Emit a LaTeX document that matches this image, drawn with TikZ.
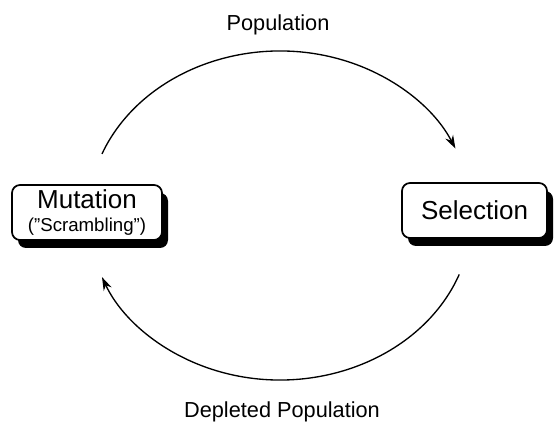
\documentclass[tikz,border=0pt]{standalone}
\usepackage{fontspec}
\setmainfont{Liberation Sans}
\usetikzlibrary{arrows.meta,shadows,calc}

\tikzset{every picture/.style={line width=0.75pt}}
\tikzset{
  stagebox/.style={draw, line width=1.3pt, rounded corners=6pt, fill=white, align=center, inner sep=0pt,
    font=\fontsize{19.5}{22}\selectfont,
    drop shadow={shadow xshift=4.5pt, shadow yshift=-6pt, fill=black, opacity=1}},
  cyclearc/.style={line width=1pt, -{Stealth[length=10pt,width=6.5pt]}},
  flowlabel/.style={inner sep=0.75pt, font=\fontsize{16.3}{19}\selectfont}
}

\begin{document}
\begin{tikzpicture}[x=0.75pt,y=0.75pt,yscale=-1,xscale=1]
\useasboundingbox (0,0) rectangle (554,423);

%Shape: Rounded Rect [id:mutation]
\node [stagebox, minimum width=150*0.75pt, minimum height=55*0.75pt] (mutation) at (87,212.5)
  {Mutation\\[-5pt]{\fontsize{14}{16}\selectfont (\symbol{34}Scrambling\symbol{34})}};
%Shape: Rounded Rect [id:selection]
\node [stagebox, minimum width=145*0.75pt, minimum height=55*0.75pt] (selection) at (474.5,210.5)
  {Selection};

%Curve Lines [id:cycle]
\coordinate (cyc) at (280,215.5);
\draw [cyclearc] ($(cyc)+(202:192 and 164.5)$) arc [start angle=202, end angle=336, x radius=192, y radius=164.5];
\draw [cyclearc] ($(cyc)+(21:192 and 164.5)$) arc [start angle=21, end angle=158, x radius=192, y radius=164.5];

% Text Node
\node [flowlabel] (pop) at (278,25) {Population};
% Text Node
\node [flowlabel] (depl) at (282,412) {Depleted Population};

\end{tikzpicture}
\end{document}
